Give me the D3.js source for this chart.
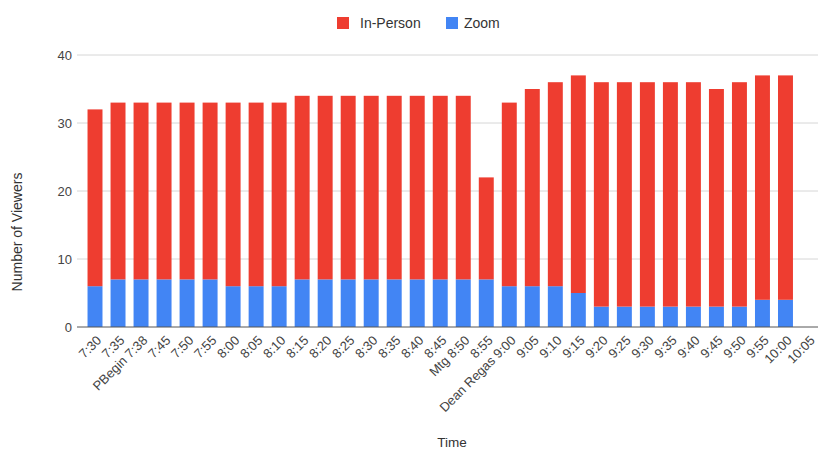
<!DOCTYPE html>
<html>
<head>
<meta charset="utf-8">
<script src="https://cdn.jsdelivr.net/npm/d3@7"></script>
<style>
  html, body { margin: 0; padding: 0; background: #fff; }
  svg { display: block; font-family: "Liberation Sans", Arial, sans-serif; }
</style>
</head>
<body>
<svg id="chart" width="818" height="449"></svg>
<script>
// Time slots (x categories)
const times = ["7:30","7:35","PBegin 7:38","7:45","7:50","7:55","8:00","8:05","8:10","8:15",
  "8:20","8:25","8:30","8:35","8:40","8:45","Mtg 8:50","8:55","Dean Regas 9:00","9:05",
  "9:10","9:15","9:20","9:25","9:30","9:35","9:40","9:45","9:50","9:55","10:00","10:05"];

// Viewers watching over Zoom
const zoomViewers = [6,7,7,7,7,7,6,6,6,7,7,7,7,7,7,7,7,7,6,6,6,5,3,3,3,3,3,3,3,4,4,null];

// Viewers attending in person
const inPersonViewers = [26,26,26,26,26,26,27,27,27,27,27,27,27,27,27,27,27,15,27,29,30,32,33,33,33,33,33,32,33,33,33,null];

const yTicks = [0,10,20,30,40];

const seriesKeys = ["Zoom", "In-Person"];
const colors = { "In-Person": "#ee3d30", "Zoom": "#4285f4" };

const rows = times.map((t, i) => ({
  time: t,
  "Zoom": zoomViewers[i] == null ? 0 : zoomViewers[i],
  "In-Person": inPersonViewers[i] == null ? 0 : inPersonViewers[i]
}));

const svg = d3.select("#chart");
const margin = { left: 83.5, right: -2, top: 55, bottom: 122 };
const W = 818, H = 449;

const x = d3.scaleBand()
  .domain(times)
  .range([margin.left, W - margin.right])
  .paddingInner(0.35)
  .paddingOuter(0.175);

const y = d3.scaleLinear()
  .domain([0, 40])
  .range([H - margin.bottom, margin.top]);

// Gridlines
svg.append("g")
  .selectAll("line")
  .data(yTicks.filter(d => d !== 0))
  .join("line")
  .attr("x1", 77).attr("x2", W)
  .attr("y1", d => y(d)).attr("y2", d => y(d))
  .attr("stroke", "#d6d6d6")
  .attr("stroke-width", 1);

// Stacked bars
const stacked = d3.stack().keys(seriesKeys)(rows);
svg.append("g")
  .selectAll("g")
  .data(stacked)
  .join("g")
  .attr("fill", d => colors[d.key])
  .selectAll("rect")
  .data(d => d)
  .join("rect")
  .attr("x", d => x(d.data.time))
  .attr("width", x.bandwidth())
  .attr("y", d => y(d[1]))
  .attr("height", d => y(d[0]) - y(d[1]));

// Baseline
svg.append("line")
  .attr("x1", 77).attr("x2", W)
  .attr("y1", y(0)).attr("y2", y(0))
  .attr("stroke", "#555")
  .attr("stroke-width", 1);

// Y axis
const yAxis = d3.axisLeft(y).tickValues(yTicks).tickSize(0).tickPadding(0);
const yg = svg.append("g")
  .attr("transform", "translate(72,0)")
  .call(yAxis);
yg.select(".domain").remove();
yg.selectAll("text")
  .attr("fill", "#444")
  .attr("font-size", 13)
  .attr("font-family", "Liberation Sans, Arial, sans-serif");

// X axis labels
const xAxis = d3.axisBottom(x).tickSize(0).tickPadding(0);
const xg = svg.append("g")
  .attr("transform", `translate(0,${y(0)})`)
  .call(xAxis);
xg.select(".domain").remove();
xg.selectAll("text")
  .attr("fill", "#444")
  .attr("font-size", 13)
  .attr("font-family", "Liberation Sans, Arial, sans-serif")
  .attr("text-anchor", "end")
  .attr("transform", "translate(4,11) rotate(-45)")
  .attr("dy", "0.35em")
  .attr("y", 0);

// Axis titles
svg.append("text")
  .attr("transform", "translate(22,232) rotate(-90)")
  .attr("text-anchor", "middle")
  .attr("font-size", 14)
  .attr("fill", "#333")
  .text("Number of Viewers");

svg.append("text")
  .attr("x", 452).attr("y", 447)
  .attr("text-anchor", "middle")
  .attr("font-size", 13.5)
  .attr("fill", "#333")
  .text("Time");

// Legend
const legendItems = [
  { key: "In-Person", x: 337, tx: 360 },
  { key: "Zoom", x: 446, tx: 464 }
];
const lg = svg.append("g");
legendItems.forEach(it => {
  lg.append("rect")
    .attr("x", it.x).attr("y", 17)
    .attr("width", 12).attr("height", 12)
    .attr("fill", colors[it.key]);
  lg.append("text")
    .attr("x", it.tx).attr("y", 28)
    .attr("font-size", 14)
    .attr("fill", "#333")
    .text(it.key);
});
</script>
</body>
</html>
